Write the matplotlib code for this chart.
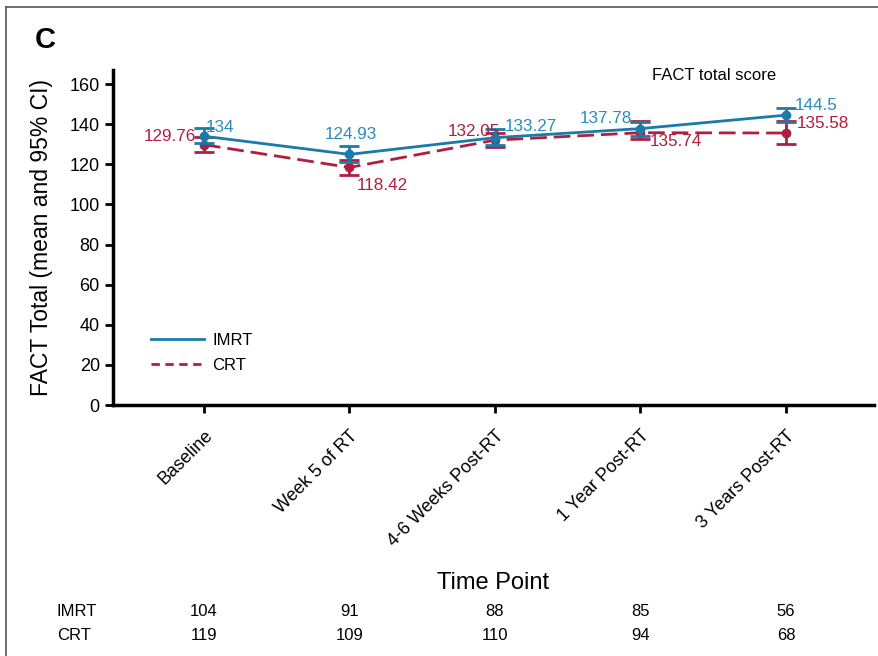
import matplotlib
matplotlib.use("Agg")
import matplotlib.pyplot as plt
from matplotlib.lines import Line2D
import matplotlib.transforms as mtransforms

plt.rcParams["font.family"] = ["Liberation Sans", "DejaVu Sans"]

time_points = ["Baseline", "Week 5 of RT", "4-6 Weeks Post-RT", "1 Year Post-RT", "3 Years Post-RT"]
imrt_mean = [134, 124.93, 133.27, 137.78, 144.5]
imrt_low = [130.5, 121.0, 129.5, 134.2, 141.2]
imrt_high = [138.0, 129.3, 137.5, 141.3, 148.0]
crt_mean = [129.76, 118.42, 132.05, 135.74, 135.58]
crt_low = [126.2, 114.8, 128.4, 132.5, 130.0]
crt_high = [133.4, 122.0, 135.8, 141.8, 141.5]
imrt_n = [104, 91, 88, 85, 56]
crt_n = [119, 109, 110, 94, 68]

blue = "#1a7aa8"
blue_txt = "#2a8cbf"
red = "#b01f40"

fig = plt.figure(figsize=(8.79, 6.56), dpi=100)
ax = fig.add_axes([0.1286, 0.3826, 0.8657, 0.5107])

x = list(range(len(time_points)))

ax.errorbar(x, imrt_mean,
            yerr=[[m - l for m, l in zip(imrt_mean, imrt_low)],
                  [h - m for m, h in zip(imrt_mean, imrt_high)]],
            color=blue, lw=2, marker="o", ms=6, capsize=7, capthick=2,
            elinewidth=2, label="IMRT", zorder=3)
ax.errorbar(x, crt_mean,
            yerr=[[m - l for m, l in zip(crt_mean, crt_low)],
                  [h - m for m, h in zip(crt_mean, crt_high)]],
            color=red, lw=2, marker="o", ms=6, capsize=7, capthick=2,
            elinewidth=2, ls=(0, (6, 2.5)), label="CRT", zorder=2)

# value labels: (dx points, dy points, ha)
imrt_off = [(1.5, 6, "left"), (1, 14.5, "center"), (7, 8, "left"), (-6, 7, "right"), (6, 7, "left")]
crt_off = [(-6, 6, "right"), (5, -13, "left"), (3.5, 6, "right"), (7, -6, "left"), (8, 7, "left")]
for i in x:
    dx, dy, ha = imrt_off[i]
    ax.annotate(f"{imrt_mean[i]:g}", (i, imrt_mean[i]), xytext=(dx, dy),
                textcoords="offset points", ha=ha, va="center",
                color=blue_txt, fontsize=12.3)
    dx, dy, ha = crt_off[i]
    ax.annotate(f"{crt_mean[i]:g}", (i, crt_mean[i]), xytext=(dx, dy),
                textcoords="offset points", ha=ha, va="center",
                color=red, fontsize=12.3)

ax.set_xlim(-0.625, 4.605)
ax.set_ylim(0, 167)
ax.set_yticks(range(0, 161, 20))
ax.set_xticks(x)
ax.set_xticklabels(time_points, rotation=45, ha="right", rotation_mode="anchor")
ax.tick_params(axis="both", labelsize=13, width=2, length=6)
ax.tick_params(axis="x", pad=10)
for s in ["top", "right"]:
    ax.spines[s].set_visible(False)
for s in ["left", "bottom"]:
    ax.spines[s].set_linewidth(2.5)

ax.set_ylabel("FACT Total (mean and 95% CI)", fontsize=16.5, labelpad=12)
ax.set_xlabel("Time Point", fontsize=17, labelpad=16)

ax.text(0.79, 0.985, "FACT total score", transform=ax.transAxes,
        ha="center", va="center", fontsize=12)

leg_handles = [Line2D([], [], color=blue, lw=2),
               Line2D([], [], color=red, lw=2, ls=(0, (3, 2)))]
ax.legend(leg_handles, ["IMRT", "CRT"], loc="center left", frameon=False,
          bbox_to_anchor=(0.03, 0.155), fontsize=12, handlelength=3.2,
          handletextpad=0.5, labelspacing=0.6)

# numbers at risk
trans = mtransforms.blended_transform_factory(ax.transData, fig.transFigure)
fig.text(57 / 879, 1 - 611 / 656, "IMRT", fontsize=12, va="center")
fig.text(57 / 879, 1 - 635 / 656, "CRT", fontsize=12, va="center")
for i in x:
    ax.text(i, 1 - 611 / 656, str(imrt_n[i]), transform=trans, ha="center",
            va="center", fontsize=12)
    ax.text(i, 1 - 635 / 656, str(crt_n[i]), transform=trans, ha="center",
            va="center", fontsize=12)

fig.text(35 / 879, 1 - 40 / 656, "C", fontsize=21, fontweight="bold", va="center")

# panel frame (top and left)
fig.add_artist(Line2D([6 / 879, 1], [1 - 7 / 656, 1 - 7 / 656], color="#555555", lw=1.2,
                      transform=fig.transFigure))
fig.add_artist(Line2D([6 / 879, 6 / 879], [0, 1 - 7 / 656], color="#555555", lw=1.2,
                      transform=fig.transFigure))

fig.savefig("out.png", dpi=100)
